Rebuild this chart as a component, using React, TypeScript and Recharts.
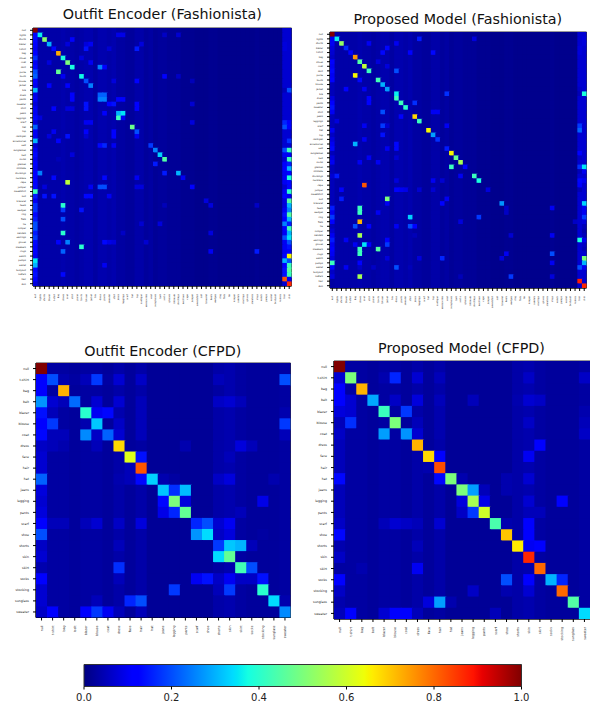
/**
 * Confusion matrices (Fashionista / CFPD), drawn as scatter cells with a jet colour scale
 */
import React from 'react';
import {
  ScatterChart,
  Scatter,
  BarChart,
  Bar,
  XAxis,
  YAxis,
  ReferenceArea,
} from 'recharts';

type Triple = [number, number, number];

const fashionistaLabels = [
  'null', 'tights', 'shorts', 'blazer', 't-shirt', 'bag', 'shoes', 'coat', 'skirt', 'purse', 'boots', 'blouse', 'jacket', 'bra',
  'dress', 'pants', 'sweater', 'shirt', 'jeans', 'leggings', 'scarf', 'hat', 'top', 'cardigan', 'accessories', 'vest', 'sunglasses', 'belt',
  'socks', 'glasses', 'intimate', 'stockings', 'necklace', 'cape', 'jumper', 'sweatshirt', 'suit', 'bracelet', 'heels', 'wedges', 'ring', 'flats',
  'tie', 'romper', 'sandals', 'earrings', 'gloves', 'sneakers', 'clogs', 'watch', 'pumps', 'wallet', 'bodysuit', 'loafers', 'hair', 'skin',
];

const cfpdLabels = [
  'null', 't-shirt', 'bag', 'belt', 'blazer', 'blouse', 'coat', 'dress', 'face', 'hair', 'hat', 'jeans',
  'legging', 'pants', 'scarf', 'shoe', 'shorts', 'skin', 'skirt', 'socks', 'stocking', 'sunglass', 'sweater',
];

const colorbarTicks = [0, 0.2, 0.4, 0.6, 0.8, 1];

// usual level of each column, where no cell stands out
const fashionistaColumnLevel = [
  .1, .035, .035, .035, .035, .035, .04, .035, .035, .03, .035, .04, .04, .03, .04, .04, .035, .04, .03, .03, .025, .025, .035, .035, .025, .03, .02, .025,
  .025, .02, .02, .02, .015, .015, .015, .012, .012, .012, .015, .015, .012, .012, .012, .012, .012, .012, .012, .012, .015, .012, .012, .012, .012, .012, .07, .07,
];
const cfpdColumnLevel = [
  .05, .03, .03, .025, .03, .03, .025, .035, .025, .035, .02, .02, .02, .02, .02, .02, .035, .04, .03, .025, .025, .025, .03,
];

// first column of the Fashionista matrices, row by row
const outfitFashionistaFirst = [
  1, .13, .13, .12, .1, .12, .17, .1, .13, .2, .22, .12, .1, .3, .09, .1, .08, .1, .1, .13, .08, .22, .1, .1, .3, .07, .1, .13,
  .1, .12, .1, .12, .12, .12, .13, .42, .15, .1, .17, .17, .13, .15, .2, .2, .15, .18, .13, .12, .12, .1, .35, .3, .13, .14, .12, .08,
];
const proposedFashionistaFirst = [
  1, .1, .1, .08, .07, .06, .12, .1, .13, .1, .12, .05, .05, .05, .08, .12, .14, .1, .05, .05, .05, .1, .06, .08, .1, .13, .05, .08,
  .1, .05, .05, .07, .05, .05, .05, .05, .05, .05, .15, .1, .18, .12, .05, .07, .1, .15, .1, .12, .1, .08, .42, .13, .06, .08, .03, .03,
];

// row, column, value
const outfitFashionistaCells: Triple[] = [
  [1, 1, .36], [2, 2, .52], [3, 3, .3], [4, 4, .13], [5, 5, .73], [6, 6, .38], [7, 7, .5], [8, 8, .38], [9, 5, .47], [10, 10, .37],
  [11, 11, .2], [12, 12, .25], [8, 14, .25], [8, 15, .12], [14, 14, .22], [14, 15, .22], [15, 14, .25], [15, 15, .25], [15, 18, .12], [15, 19, .12],
  [16, 16, .12], [16, 17, .14], [18, 18, .3], [18, 19, .35], [19, 18, .42], [19, 19, .1], [21, 21, .48], [22, 22, .2], [25, 25, .18], [26, 26, .25],
  [27, 27, .33], [28, 28, .45], [4, 11, .14], [3, 12, .1], [3, 11, .08], [2, 8, .12], [3, 7, .08], [4, 22, .15], [3, 23, .08], [4, 16, .07],
  [6, 10, .08], [7, 12, .1], [7, 3, .08], [10, 6, .1], [10, 28, .12], [10, 31, .06], [12, 3, .12], [12, 7, .12], [11, 22, .12], [11, 17, .08],
  [14, 8, .12], [15, 8, .12], [16, 11, .14], [17, 11, .14], [16, 22, .12], [17, 22, .12], [17, 4, .12], [17, 7, .08], [17, 8, .08], [18, 15, .12],
  [19, 1, .08], [20, 11, .1], [20, 12, .1], [22, 11, .12], [23, 11, .07], [22, 4, .1], [23, 3, .08], [23, 7, .14], [24, 5, .12], [22, 17, .12],
  [23, 17, .12], [25, 14, .13], [25, 15, .16], [25, 17, .1], [23, 22, .1], [20, 34, .08], [16, 34, .07], [11, 34, .05], [1, 28, .06], [1, 31, .07],
  [1, 18, .09], [1, 19, .09], [27, 8, .08], [28, 5, .05], [29, 26, .15], [31, 1, .25], [31, 28, .15], [31, 31, .3], [32, 4, .13], [32, 15, .13],
  [32, 22, .1], [32, 32, .1], [33, 7, .58], [34, 14, .2], [34, 15, .2], [34, 12, .1], [34, 34, .12], [34, 2, .08], [34, 22, .08], [34, 23, .08],
  [36, 2, .14], [36, 4, .14], [36, 11, .13], [36, 12, .13], [36, 16, .1], [37, 37, .08], [38, 6, .4], [38, 38, .08], [38, 28, .05], [38, 48, .06],
  [39, 6, .18], [39, 10, .14], [41, 6, .2], [42, 27, .08], [42, 23, .07], [44, 6, .4], [44, 38, .08], [44, 19, .06], [46, 7, .25], [46, 5, .12],
  [46, 15, .13], [46, 16, .09], [46, 17, .08], [46, 24, .07], [47, 10, .4], [48, 6, .22], [48, 38, .1], [48, 48, .15], [51, 15, .1], [53, 6, .13],
  [3, 54, .08], [4, 54, .08], [11, 54, .07], [12, 54, .07], [13, 54, .05], [16, 54, .07], [17, 54, .07], [20, 54, .16], [21, 54, .2], [26, 54, .2],
  [27, 54, .1], [29, 54, .12], [30, 54, .12], [31, 54, .1], [32, 54, .1], [33, 54, .1], [34, 54, .07], [35, 54, .1], [36, 54, .13], [37, 54, .08],
  [38, 54, .08], [39, 54, .1], [40, 54, .14], [41, 54, .12], [42, 54, .25], [43, 54, .12], [44, 54, .1], [45, 54, .2], [46, 54, .1], [47, 54, .1],
  [48, 54, .1], [49, 54, .12], [50, 54, .3], [51, 54, .12], [52, 54, .14], [53, 54, .14], [54, 54, .82], [13, 55, .2], [20, 55, .12], [21, 55, .12],
  [24, 55, .17], [26, 55, .42], [27, 55, .1], [28, 55, .42], [29, 55, .15], [30, 55, .3], [31, 55, .12], [32, 55, .38], [33, 55, .13], [34, 55, .13],
  [35, 55, .4], [36, 55, .1], [37, 55, .45], [38, 55, .3], [39, 55, .25], [40, 55, .45], [41, 55, .3], [42, 55, .15], [43, 55, .42], [44, 55, .3],
  [45, 55, .35], [46, 55, .2], [47, 55, .14], [48, 55, .12], [49, 55, .65], [50, 55, .2], [51, 55, .42], [52, 55, .45], [53, 55, .42], [54, 55, .1], [55, 55, .87],
];

const proposedFashionistaCells: Triple[] = [
  [1, 1, .36], [2, 2, .53], [3, 3, .16], [4, 4, .12], [5, 5, .75], [6, 6, .45], [7, 7, .58], [8, 8, .42], [9, 5, .65], [10, 6, .13],
  [10, 10, .43], [11, 11, .3], [12, 12, .28], [13, 14, .36], [14, 14, .42], [15, 15, .42], [16, 16, .4], [18, 18, .68], [19, 19, .42], [21, 21, .65],
  [22, 22, .28], [23, 23, .17], [25, 25, .15], [26, 26, .65], [27, 27, .47], [28, 28, .55], [1, 19, .15], [4, 11, .13], [3, 12, .13], [4, 17, .12],
  [4, 22, .13], [2, 14, .1], [2, 8, .1], [1, 31, .08], [6, 10, .08], [8, 14, .2], [7, 12, .08], [12, 3, .12], [12, 7, .1], [13, 25, .17],
  [14, 8, .12], [15, 8, .12], [15, 18, .17], [17, 11, .2], [17, 22, .1], [17, 23, .1], [18, 15, .12], [19, 1, .08], [20, 7, .1], [20, 11, .18],
  [20, 12, .07], [20, 25, .1], [22, 11, .14], [23, 7, .1], [24, 5, .3], [24, 14, .13], [25, 14, .13], [25, 12, .1], [27, 8, .1], [27, 14, .07],
  [28, 6, .1], [28, 10, .1], [29, 26, .42], [29, 29, .12], [31, 1, .15], [31, 28, .1], [31, 31, .42], [32, 32, .38], [32, 22, .1], [32, 14, .08],
  [32, 24, .07], [33, 7, .82], [34, 2, .12], [34, 14, .12], [34, 15, .1], [34, 16, .09], [34, 19, .07], [34, 22, .07], [34, 34, .08], [36, 2, .15],
  [36, 12, .5], [36, 25, .1], [37, 12, .1], [37, 24, .12], [37, 37, .27], [38, 6, .42], [39, 6, .42], [39, 10, .1], [38, 48, .1], [38, 38, .06],
  [39, 38, .06], [40, 17, .33], [40, 32, .18], [41, 6, .72], [41, 28, .08], [41, 53, .06], [42, 5, .2], [42, 8, .12], [42, 14, .1], [42, 17, .2],
  [42, 18, .12], [44, 6, .55], [44, 18, .05], [44, 39, .07], [44, 48, .1], [45, 12, .12], [45, 3, .1], [46, 7, .35], [46, 8, .12], [46, 5, .1],
  [46, 12, .18], [47, 10, .45], [47, 6, .42], [48, 6, .42], [48, 38, .1], [48, 48, .2], [49, 12, .08], [49, 19, .08], [49, 24, .16], [49, 37, .08],
  [50, 6, .12], [50, 48, .1], [51, 14, .2], [51, 3, .1], [51, 9, .06], [51, 17, .05], [51, 6, .06], [53, 6, .55], [53, 39, .18], [53, 48, .08],
  [53, 28, .05], [3, 54, .08], [4, 54, .08], [12, 54, .06], [13, 54, .05], [16, 54, .07], [17, 54, .07], [20, 54, .18], [21, 54, .22], [26, 54, .12],
  [27, 54, .06], [29, 54, .17], [30, 54, .05], [32, 54, .13], [33, 54, .12], [34, 54, .05], [45, 54, .38], [49, 54, .07], [51, 54, .2], [54, 54, .88],
  [1, 55, .08], [2, 55, .08], [13, 55, .38], [29, 55, .35], [30, 55, .1], [31, 55, .07], [32, 55, .1], [37, 55, .33], [38, 55, .1], [39, 55, .1],
  [40, 55, .18], [41, 55, .08], [42, 55, .05], [43, 55, .04], [44, 55, .05], [45, 55, .1], [46, 55, .06], [47, 55, .05], [48, 55, .07], [49, 55, .5],
  [50, 55, .3], [51, 55, .1], [55, 55, .87],
];

const outfitCfpdCells: Triple[] = [
  [0, 0, 1], [1, 0, .12], [1, 1, .2], [1, 2, .04], [1, 3, .03], [1, 4, .05], [1, 5, .18], [1, 6, .03], [1, 7, .07], [1, 9, .06], [1, 16, .05], [1, 17, .04], [1, 22, .2],
  [2, 0, .12], [2, 2, .72], [2, 16, .03], [3, 0, .27], [3, 1, .07], [3, 2, .05], [3, 3, .23], [3, 5, .07], [3, 7, .07], [3, 9, .05], [3, 16, .06], [3, 17, .07], [3, 18, .05],
  [4, 0, .14], [4, 1, .05], [4, 4, .4], [4, 5, .1], [4, 6, .13], [4, 7, .04], [4, 9, .05], [4, 22, .04], [5, 0, .11], [5, 1, .18], [5, 4, .04], [5, 5, .32], [5, 7, .06], [5, 9, .05], [5, 22, .18],
  [6, 0, .13], [6, 1, .05], [6, 2, .05], [6, 4, .26], [6, 5, .06], [6, 6, .22], [6, 7, .07], [6, 9, .05], [6, 22, .05], [7, 0, .06], [7, 1, .05], [7, 2, .04], [7, 5, .05], [7, 7, .68], [7, 9, .03], [7, 13, .04], [7, 18, .08], [7, 19, .05],
  [8, 0, .07], [8, 8, .62], [8, 9, .14], [8, 17, .05], [9, 0, .07], [9, 8, .05], [9, 9, .82], [10, 0, .22], [10, 7, .04], [10, 8, .05], [10, 9, .13], [10, 10, .33], [10, 11, .04], [10, 12, .03], [10, 16, .06], [10, 17, .08], [10, 21, .04],
  [11, 0, .08], [11, 11, .32], [11, 12, .17], [11, 13, .31], [12, 0, .07], [12, 11, .13], [12, 12, .5], [12, 13, .08], [12, 20, .09], [13, 0, .08], [13, 11, .09], [13, 12, .16], [13, 13, .47], [13, 17, .04], [13, 18, .05],
  [14, 0, .12], [14, 1, .05], [14, 2, .05], [14, 4, .05], [14, 5, .07], [14, 7, .06], [14, 9, .08], [14, 14, .16], [14, 15, .2], [14, 16, .07], [14, 17, .1], [15, 0, .2], [15, 14, .27], [15, 15, .34], [15, 16, .06], [15, 17, .08], [15, 20, .03],
  [16, 0, .06], [16, 7, .05], [16, 16, .18], [16, 17, .32], [16, 18, .3], [16, 19, .05], [17, 0, .07], [17, 16, .34], [17, 17, .47], [18, 0, .04], [18, 7, .17], [18, 16, .03], [18, 18, .43], [18, 19, .2],
  [19, 0, .12], [19, 7, .05], [19, 14, .1], [19, 15, .14], [19, 16, .06], [19, 17, .1], [19, 18, .06], [19, 19, .06], [19, 20, .14], [20, 0, .07], [20, 12, .18], [20, 16, .05], [20, 17, .18], [20, 20, .4],
  [21, 0, .07], [21, 5, .05], [21, 8, .16], [21, 9, .2], [21, 21, .34], [21, 22, .04], [22, 0, .06], [22, 1, .12], [22, 4, .12], [22, 5, .18], [22, 6, .1], [22, 7, .05], [22, 9, .05], [22, 22, .26],
];

const proposedCfpdCells: Triple[] = [
  [0, 0, 1], [1, 0, .07], [1, 1, .5], [1, 4, .04], [1, 5, .16], [1, 7, .07], [1, 9, .05], [1, 17, .06], [1, 22, .06], [2, 0, .12], [2, 2, .72], [2, 17, .04],
  [3, 0, .12], [3, 1, .07], [3, 3, .29], [3, 5, .06], [3, 7, .08], [3, 9, .05], [3, 12, .05], [3, 16, .04], [3, 17, .07], [3, 18, .06], [4, 0, .08], [4, 1, .07], [4, 4, .42], [4, 6, .18], [4, 9, .04], [4, 17, .04], [4, 22, .04],
  [5, 0, .05], [5, 1, .17], [5, 5, .5], [5, 7, .05], [5, 9, .04], [5, 17, .06], [5, 22, .05], [6, 0, .06], [6, 4, .28], [6, 6, .27], [6, 7, .07], [6, 9, .04], [6, 22, .06], [7, 0, .05], [7, 7, .72], [7, 17, .04], [7, 18, .12],
  [8, 0, .05], [8, 8, .68], [8, 9, .12], [8, 17, .1], [9, 0, .05], [9, 8, .04], [9, 9, .83], [10, 0, .13], [10, 9, .13], [10, 10, .5], [10, 11, .04], [10, 15, .04], [10, 17, .07],
  [11, 0, .05], [11, 11, .5], [11, 12, .28], [11, 13, .05], [11, 15, .04], [12, 0, .05], [12, 11, .08], [12, 12, .55], [12, 13, .09], [12, 17, .07], [12, 20, .11], [13, 0, .05], [13, 11, .06], [13, 12, .18], [13, 13, .6], [13, 17, .05], [13, 18, .05],
  [14, 0, .06], [14, 4, .05], [14, 5, .07], [14, 6, .06], [14, 7, .05], [14, 9, .07], [14, 14, .44], [14, 15, .04], [14, 17, .11], [15, 0, .13], [15, 15, .7], [15, 17, .12], [16, 0, .04], [16, 7, .05], [16, 16, .66], [16, 17, .1], [16, 18, .12],
  [17, 0, .06], [17, 17, .87], [18, 0, .03], [18, 2, .04], [18, 7, .1], [18, 18, .8], [19, 0, .11], [19, 15, .2], [19, 17, .12], [19, 19, .3], [19, 20, .16], [20, 0, .06], [20, 12, .06], [20, 15, .04], [20, 17, .07], [20, 20, .8],
  [21, 0, .04], [21, 8, .08], [21, 9, .28], [21, 10, .04], [21, 21, .45], [22, 0, .05], [22, 1, .12], [22, 4, .07], [22, 5, .12], [22, 6, .12], [22, 7, .05], [22, 9, .03], [22, 14, .05], [22, 22, .34],
];

// matplotlib jet
const jetRed = [[0, 0], [.35, 0], [.66, 1], [.89, 1], [1, .5]];
const jetGreen = [[0, 0], [.125, 0], [.375, 1], [.64, 1], [.91, 0], [1, 0]];
const jetBlue = [[0, .5], [.11, 1], [.34, 1], [.65, 0], [1, 0]];

const channel = (stops: number[][], v: number) => {
  for (let i = 1; i < stops.length; i++) {
    if (v <= stops[i][0]) {
      const [x0, y0] = stops[i - 1];
      const [x1, y1] = stops[i];
      return Math.round(255 * (y0 + ((v - x0) / (x1 - x0)) * (y1 - y0)));
    }
  }
  return 0;
};

const jet = (v: number) => `rgb(${channel(jetRed, v)},${channel(jetGreen, v)},${channel(jetBlue, v)})`;

const gradientStops = [0, .11, .125, .34, .35, .375, .64, .65, .66, .89, .91, 1];

const buildCells = (n: number, level: number[], cells: Triple[], first?: number[]) => {
  const rows: { x: number; y: number; v: number }[] = [];
  const lookup = new Map<string, number>();
  if (first) first.forEach((v, r) => lookup.set(`${r}-0`, v));
  cells.forEach(([r, c, v]) => lookup.set(`${r}-${c}`, v));
  for (let r = 0; r < n; r++) {
    for (let c = 0; c < n; c++) {
      rows.push({ x: c + 0.5, y: r + 0.5, v: lookup.get(`${r}-${c}`) ?? level[c] });
    }
  }
  return rows;
};

interface MatrixProps {
  title: string;
  labels: string[];
  cells: { x: number; y: number; v: number }[];
  left: number;
  top: number;
  plotWidth: number;
  plotHeight: number;
  titleBaseline: number;
  fontSize: number;
  titleSize: number;
}

const Matrix: React.FC<MatrixProps> = ({ title, labels, cells, left, top, plotWidth, plotHeight, titleBaseline, fontSize, titleSize }) => {
  const n = labels.length;
  const ticks = labels.map((_, i) => i + 0.5);
  const cellW = plotWidth / n;
  const cellH = plotHeight / n;
  const yAxisWidth = 28;
  const xAxisHeight = 36;

  // 다음 셀이 위에 그려지므로 1px 겹쳐서 틈을 없앤다
  const renderCell = (props: any) => (
    <rect
      x={props.cx - cellW / 2}
      y={props.cy - cellH / 2}
      width={cellW + (props.payload.x > n - 1 ? 0 : 1)}
      height={cellH + (props.payload.y > n - 1 ? 0 : 1)}
      fill={jet(props.payload.v)}
    />
  );

  const xTick = ({ x, y, payload }: any) => (
    <text x={0} y={0} textAnchor="end" fontSize={fontSize} fill="#222" transform={`translate(${x + fontSize * 0.35},${y + 3}) rotate(-90)`}>
      {labels[Math.round(payload.value - 0.5)]}
    </text>
  );

  const yTick = ({ x, y, payload }: any) => (
    <text x={x - 2} y={y + fontSize * 0.35} textAnchor="end" fontSize={fontSize} fill="#222">
      {labels[Math.round(payload.value - 0.5)]}
    </text>
  );

  return (
    <>
      <div
        style={{
          position: 'absolute',
          left: left - 40,
          width: plotWidth + 80,
          top: titleBaseline - titleSize,
          textAlign: 'center',
          fontSize: titleSize,
          lineHeight: `${Math.round(titleSize * 1.2)}px`,
          color: '#111',
          whiteSpace: 'nowrap',
        }}
      >
        {title}
      </div>
      <div style={{ position: 'absolute', left: left - yAxisWidth, top: top - 2 }}>
        <ScatterChart
          width={plotWidth + yAxisWidth + 2}
          height={plotHeight + xAxisHeight + 2}
          margin={{ top: 2, right: 2, bottom: 0, left: 0 }}
        >
          <XAxis
            type="number"
            dataKey="x"
            domain={[0, n]}
            ticks={ticks}
            interval={0}
            height={xAxisHeight}
            tick={xTick}
            tickSize={3}
            axisLine={{ stroke: '#000' }}
            tickLine={{ stroke: '#000' }}
          />
          <YAxis
            type="number"
            dataKey="y"
            domain={[0, n]}
            ticks={ticks}
            interval={0}
            reversed
            width={yAxisWidth}
            tick={yTick}
            tickSize={3}
            axisLine={{ stroke: '#000' }}
            tickLine={{ stroke: '#000' }}
          />
          <Scatter data={cells} shape={renderCell} isAnimationActive={false} />
          <ReferenceArea x1={0} x2={n} y1={0} y2={n} fill="none" stroke="#333" strokeWidth={1} ifOverflow="visible" />
        </ScatterChart>
      </div>
    </>
  );
};

const outfitFashionista = buildCells(56, fashionistaColumnLevel, outfitFashionistaCells, outfitFashionistaFirst);
const proposedFashionista = buildCells(56, fashionistaColumnLevel, proposedFashionistaCells, proposedFashionistaFirst);
const outfitCfpd = buildCells(23, cfpdColumnLevel, outfitCfpdCells);
const proposedCfpd = buildCells(23, cfpdColumnLevel, proposedCfpdCells);

const colorbarData = [{ name: 'scale', value: 1 }];

const colorbarTick = ({ x, y, payload }: any) => (
  <text x={x} y={y + 9} textAnchor="middle" fontSize={10} fill="#222">
    {payload.value.toFixed(1)}
  </text>
);

const App: React.FC = () => (
  <div
    style={{
      position: 'absolute',
      left: 0,
      top: 0,
      width: 590,
      height: 704,
      overflow: 'hidden',
      background: '#fff',
      fontFamily: '"DejaVu Sans", sans-serif',
    }}
  >
    <style>{`.heat .recharts-scatter { filter: blur(0.7px); }`}</style>
    <div className="heat">
      <Matrix title="Outfit Encoder (Fashionista)" labels={fashionistaLabels} cells={outfitFashionista} left={33} top={27.5} plotWidth={258.5} plotHeight={258} titleBaseline={20} fontSize={2.3} titleSize={14.3} />
      <Matrix title="Proposed Model (Fashionista)" labels={fashionistaLabels} cells={proposedFashionista} left={329.5} top={31.5} plotWidth={256.5} plotHeight={256} titleBaseline={25} fontSize={2.3} titleSize={14.3} />
      <Matrix title="Outfit Encoder (CFPD)" labels={cfpdLabels} cells={outfitCfpd} left={35.5} top={362.5} plotWidth={254.5} plotHeight={254.5} titleBaseline={357} fontSize={3.2} titleSize={14.3} />
      <Matrix title="Proposed Model (CFPD)" labels={cfpdLabels} cells={proposedCfpd} left={333.5} top={360.5} plotWidth={256} plotHeight={258} titleBaseline={354} fontSize={3.2} titleSize={14.3} />
    </div>
    <div style={{ position: 'absolute', left: 64, top: 662 }}>
      <BarChart
        width={478}
        height={42}
        data={colorbarData}
        layout="vertical"
        barCategoryGap={0}
        margin={{ top: 2.5, right: 20.5, bottom: 0, left: 20 }}
      >
        <defs>
          <linearGradient id="jetBar" x1="0" y1="0" x2="1" y2="0">
            {gradientStops.map((s) => (
              <stop key={s} offset={s} stopColor={jet(s)} />
            ))}
          </linearGradient>
        </defs>
        <XAxis
          type="number"
          domain={[0, 1]}
          ticks={colorbarTicks}
          interval={0}
          height={17.5}
          tickSize={3}
          tick={colorbarTick}
          axisLine={false}
          tickLine={{ stroke: '#000' }}
        />
        <YAxis type="category" dataKey="name" hide />
        <Bar dataKey="value" fill="url(#jetBar)" stroke="#333" strokeWidth={1} isAnimationActive={false} />
      </BarChart>
    </div>
  </div>
);

export default App;
